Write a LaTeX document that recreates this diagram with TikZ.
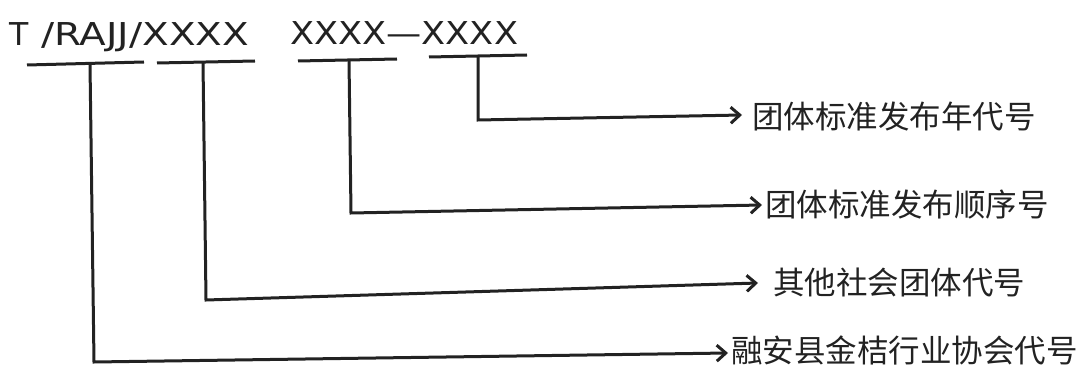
\documentclass[tikz,border=0pt]{standalone}
\usepackage{fontspec}
\usepackage{graphicx}
\usetikzlibrary{arrows.meta}
\newfontfamily\cjk{Noto Sans CJK SC}
\newfontfamily\latn{DejaVu Sans}
\definecolor{ink}{HTML}{222222}
\begin{document}
\begin{tikzpicture}[x=1pt,y=-1pt,
  ln/.style={line width=3pt, draw=ink},
  arr/.style={ln, -{Straight Barb[length=9pt,width=16pt]}},
  code/.style={inner sep=0pt, anchor=base west, text=ink, font=\latn\fontsize{31.5}{36}\selectfont},
  lab/.style={inner sep=0pt, anchor=west, text=ink, font=\cjk\fontsize{31.5}{34}\selectfont}]
\useasboundingbox (0,0) rectangle (1085,366);
% top code
\node[code] (t1) at (9,46) {T};
\node[code] (t2) at (41,46) {\resizebox{208pt}{\height}{/RAJJ/XXXX}};
\node[code] (t3) at (290,45) {\resizebox{228pt}{\height}{XXXX—XXXX}};
% underline ends
\coordinate (u1a) at (27,65);  \coordinate (u1b) at (144,62);
\coordinate (u2a) at (157,63); \coordinate (u2b) at (255,61);
\coordinate (u3a) at (298,61); \coordinate (u3b) at (397,59);
\coordinate (u4a) at (429,57); \coordinate (u4b) at (527,55);
\draw[ln] (u1a) -- (u1b);
\draw[ln] (u2a) -- (u2b);
\draw[ln] (u3a) -- (u3b);
\draw[ln] (u4a) -- (u4b);
% labels
\node[lab] (L1) at (752,117) {团体标准发布年代号};
\node[lab] (L2) at (765,205) {团体标准发布顺序号};
\node[lab] (L3) at (773,283) {其他社会团体代号};
\node[lab] (L4) at (731,350) {融安县金桔行业协会代号};
% vertical tops, corners, tips
\coordinate (v1) at (90,64);  \coordinate (c1) at (94,362); \coordinate (e1) at (728,353);
\coordinate (v2) at (203,62); \coordinate (c2) at (206,300); \coordinate (e2) at (758,283);
\coordinate (v3) at (349,60); \coordinate (c3) at (351,213); \coordinate (e3) at (762,205);
\coordinate (v4) at (478,56); \coordinate (c4) at (478,120); \coordinate (e4) at (742,115);
\draw[arr] (v1) -- (c1) -- (e1);
\draw[arr] (v2) -- (c2) -- (e2);
\draw[arr] (v3) -- (c3) -- (e3);
\draw[arr] (v4) -- (c4) -- (e4);
\end{tikzpicture}
\end{document}
